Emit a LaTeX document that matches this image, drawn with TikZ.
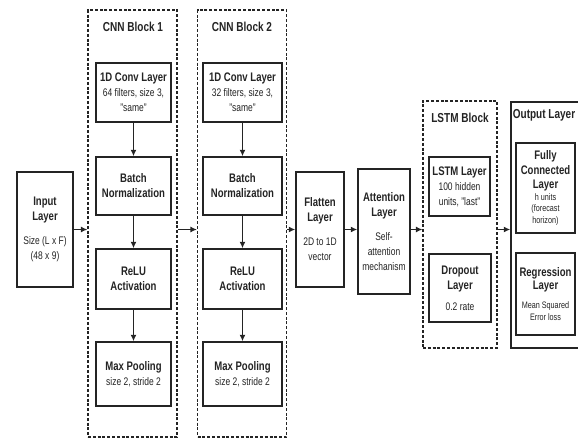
\documentclass[tikz,border=0pt]{standalone}
\usepackage{fontspec}
\setmainfont[FakeStretch=0.77]{Liberation Sans}
\definecolor{ink}{HTML}{242424}
\usepackage{tikz}
\usetikzlibrary{positioning,arrows.meta,calc}
\newcommand\hd[1]{{\fontsize{12.4}{15}\selectfont\bfseries #1}}
\newcommand\fine[1]{{\fontsize{9.4}{11}\selectfont #1}}
\tikzset{
  box/.style={draw=ink,line width=1.4pt,fill=white,align=center,inner sep=1pt,
              font=\fontsize{11}{15}\selectfont,text=ink,minimum width=#1},
  box/.default=75pt,
  block/.style={draw=ink,dash pattern=on 3pt off 1.8pt,line width=1.1pt,minimum width=#1},
  block/.default=89pt,
  outbox/.style={draw=ink,line width=1.4pt,minimum width=#1},
  outbox/.default=67pt,
  blocktitle/.style={font=\fontsize{13}{14}\selectfont\bfseries,text=ink},
  flow/.style={-{Latex[length=6.5pt,width=6pt]},draw=ink,line width=1.3pt},
}
\begin{document}
\begin{tikzpicture}[x=1pt,y=-1pt]
  \useasboundingbox (0,0) rectangle (578,439);
  % blocks
  \node[block, minimum height=427pt] (cnnA) at (132.5,223.5) {};
  \node[block, minimum height=427pt] (cnnB) at (242,223.5) {};
  \node[block=74pt, minimum height=247pt] (lstmblk) at (460,224.5) {};
  \node[outbox=68pt, minimum height=246pt] (outblk) at (545,225) {};
  \node[blocktitle] (cnnAt) at (133,27) {CNN Block 1};
  \node[blocktitle] (cnnBt) at (242,27) {CNN Block 2};
  \node[blocktitle] (lstmt) at (460,118) {LSTM Block};
  \node[blocktitle] (outt) at (544,115) {Output Layer};
  % input
  \node[box=56pt, minimum height=115pt] (inp) at (45,229.5) {\hd{Input}\\\hd{Layer}\\[9pt]Size (L x F)\\(48 x 9)};
  % CNN block 1
  \node[box, minimum height=59pt] (convA) at (133.5,92.5) {\hd{1D Conv Layer}\\64 filters, size 3,\\"same"};
  \node[box, minimum height=58pt] (bnA) at (133.5,186) {\hd{Batch}\\\hd{Normalization}};
  \node[box, minimum height=60pt] (reluA) at (133.5,279) {\hd{ReLU}\\\hd{Activation}};
  \node[box, minimum height=64pt] (poolA) at (133.5,374) {\hd{Max Pooling}\\size 2, stride 2};
  % CNN block 2
  \node[box=79pt, minimum height=59pt] (convB) at (242.5,92.5) {\hd{1D Conv Layer}\\32 filters, size 3,\\"same"};
  \node[box=79pt, minimum height=58pt] (bnB) at (242.5,186) {\hd{Batch}\\\hd{Normalization}};
  \node[box=79pt, minimum height=60pt] (reluB) at (242.5,279) {\hd{ReLU}\\\hd{Activation}};
  \node[box=79pt, minimum height=64pt] (poolB) at (242.5,374) {\hd{Max Pooling}\\size 2, stride 2};
  % flatten and attention
  \node[box=48pt, minimum height=115pt] (flat) at (320,229.5) {\hd{Flatten}\\\hd{Layer}\\[9pt]2D to 1D\\vector};
  \node[box=52pt, minimum height=125pt] (attn) at (384,231.5) {\hd{Attention}\\\hd{Layer}\\[9pt]Self-\\attention\\mechanism};
  % LSTM block
  \node[box=61pt, minimum height=59pt] (lstm) at (459.5,186.5) {\hd{LSTM Layer}\\100 hidden\\units, "last"};
  \node[box=62pt, minimum height=68pt] (drop) at (460,288) {\hd{Dropout}\\\hd{Layer}\\[6pt]0.2 rate};
  % output layer
  \node[box=59pt, minimum height=90pt, font=\fontsize{11}{14.5}\selectfont] (fc) at (545.5,188) {\hd{Fully}\\\hd{Connected}\\\hd{Layer}\\[-3pt]\fine{h units}\\[-3pt]\fine{(forecast}\\[-3pt]\fine{horizon)}};
  \node[box=59pt, minimum height=82pt, font=\fontsize{11}{13}\selectfont] (reg) at (545.5,294) {\hd{Regression}\\\hd{Layer}\\[6pt]\fine{Mean Squared}\\[-1pt]\fine{Error loss}};
  % arrows
  \draw[flow] (convA) -- (bnA);
  \draw[flow] (bnA) -- (reluA);
  \draw[flow] (reluA) -- (poolA);
  \draw[flow] (convB) -- (bnB);
  \draw[flow] (bnB) -- (reluB);
  \draw[flow] (reluB) -- (poolB);
  \draw[flow] (inp.east) -- (inp.east -| cnnA.west);
  \draw[flow] (inp.east -| cnnA.east) -- (inp.east -| cnnB.west);
  \draw[flow] (inp.east -| cnnB.east) -- (flat.west);
  \draw[flow] (flat.east) -- (flat.east -| attn.west);
  \draw[flow] (flat.east -| attn.east) -- (flat.east -| lstmblk.west);
  \draw[flow] (flat.east -| lstmblk.east) -- (flat.east -| outblk.west);
\end{tikzpicture}
\end{document}
